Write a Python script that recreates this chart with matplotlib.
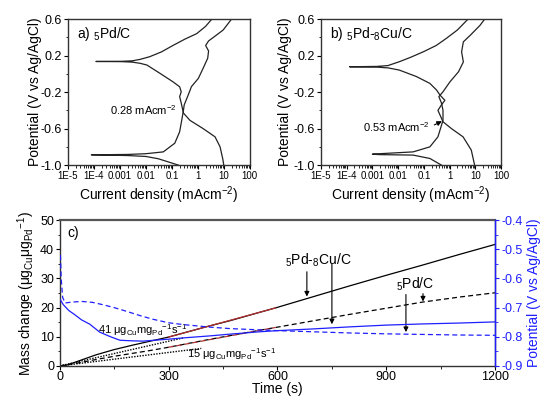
import numpy as np
import matplotlib
matplotlib.use('Agg')
import matplotlib.pyplot as plt
from matplotlib.ticker import FixedLocator, MultipleLocator, LogLocator, NullFormatter, FormatStrFormatter

plt.rcParams['font.family'] = ['Liberation Sans', 'DejaVu Sans']
plt.rcParams['mathtext.fontset'] = 'custom'
plt.rcParams['mathtext.rm'] = 'Liberation Sans'
plt.rcParams['mathtext.it'] = 'Liberation Sans:italic'
plt.rcParams['mathtext.bf'] = 'Liberation Sans:bold'
plt.rcParams['axes.unicode_minus'] = False

# ---- panel a: 5Pd/C Tafel curves (current in mA cm-2, potential in V)
a1_i = [10, 9.1, 7.2, 4.6, 1.6, 0.5, 0.28, 0.23, 0.2, 0.23, 0.2, 0.11, 0.035, 0.011, 0.006, 0.003, 0.0012, 1.2e-4,
        0.0012, 0.003, 0.006, 0.014, 0.04, 0.11, 0.32, 0.91, 2.0, 3.5]
a1_v = [-1.0, -0.93, -0.80, -0.69, -0.60, -0.51, -0.43, -0.32, -0.25, -0.197, -0.142, -0.087, 0.005, 0.096, 0.115, 0.128, 0.133, 0.135,
        0.137, 0.142, 0.158, 0.187, 0.24, 0.31, 0.38, 0.44, 0.52, 0.6]
a2_i = [0.18, 0.072, 0.03, 0.01, 0.002, 8e-5,
        0.002, 0.01, 0.047, 0.13, 0.2, 0.24, 0.28, 0.3, 0.43, 0.57, 1.05, 1.6, 2.4, 2.6, 2.0, 2.6, 5.0, 9.5, 20]
a2_v = [-1.0, -0.964, -0.93, -0.905, -0.895, -0.887,
        -0.883, -0.875, -0.855, -0.76, -0.635, -0.51, -0.40, -0.34, -0.23, -0.14, -0.05, 0.06, 0.17, 0.25, 0.31, 0.36, 0.42, 0.48, 0.6]

# ---- panel b: 5Pd-8Cu/C Tafel curves
b1_i = [9.3, 6.9, 3.3, 1.17, 0.55, 0.35, 0.48, 0.65, 0.42, 0.31, 0.17, 0.051, 0.011, 0.004, 0.0015, 1.3e-4,
        0.0015, 0.004, 0.011, 0.03, 0.093, 0.3, 0.76, 2.0, 5.2]
b1_v = [-1.0, -0.835, -0.69, -0.60, -0.525, -0.40, -0.34, -0.29, -0.233, -0.178, -0.105, -0.03, 0.041, 0.065, 0.073, 0.077,
        0.081, 0.09, 0.132, 0.18, 0.24, 0.31, 0.39, 0.48, 0.6]
b2_i = [0.48, 0.17, 0.038, 0.0019, 0.001,
        0.0019, 0.038, 0.17, 0.35, 0.55, 0.55, 0.48, 0.38, 0.55, 1.03, 2.2, 3.4, 2.9, 3.4, 6.2, 15, 23]
b2_v = [-1.0, -0.927, -0.89, -0.885, -0.88,
        -0.875, -0.855, -0.80, -0.69, -0.51, -0.40, -0.32, -0.25, -0.197, -0.087, 0.022, 0.13, 0.24, 0.35, 0.42, 0.53, 0.6]

# ---- panel c: mass change (left axis) and potential (right axis) vs time
t_mass = [0, 20, 50, 100, 150, 200, 250, 300, 400, 469, 600, 700, 800, 900, 1000, 1100, 1200]
m_pdcu = [0, 0.3, 1.6, 3.8, 5.6, 7.1, 8.5, 9.9, 13.3, 15.5, 20.1, 23.8, 27.5, 31.1, 34.6, 38.2, 41.7]
t_mass2 = [0, 50, 100, 150, 200, 250, 300, 400, 500, 600, 700, 800, 900, 1000, 1100, 1200]
m_pd = [0, 1.0, 2.2, 3.3, 4.3, 5.3, 6.4, 8.8, 11.1, 13.3, 15.5, 17.7, 19.8, 21.9, 23.6, 25.1]
fit_pdcu_t = [300, 595]
fit_pdcu_m = [9.9, 19.9]
fit_pd_t = [300, 595]
fit_pd_m = [6.4, 13.2]
dot_pdcu_t = [0, 340]
dot_pdcu_m = [0, 9.6]
dot_pd_t = [0, 390]
dot_pd_m = [0, 6.0]

t_pot1 = [2, 10, 25, 40, 60, 83, 110, 140, 166, 200, 229, 260, 303, 350, 414, 469, 550, 600, 700, 800, 900, 1000, 1100, 1200]
e_pdcu = [-0.674, -0.69, -0.71, -0.723, -0.742, -0.757, -0.784, -0.80, -0.812, -0.814, -0.815, -0.812, -0.808, -0.803,
          -0.797, -0.791, -0.783, -0.779, -0.773, -0.766, -0.76, -0.756, -0.753, -0.749]
t_pot2 = [2, 4, 8, 15, 28, 45, 63, 90, 119, 150, 185, 220, 257, 300, 339, 414, 469, 600, 700, 800, 900, 1000, 1100, 1200]
e_pd = [-0.52, -0.60, -0.665, -0.684, -0.682, -0.680, -0.679, -0.682, -0.69, -0.70, -0.713, -0.727, -0.74, -0.752,
        -0.758, -0.767, -0.772, -0.779, -0.783, -0.787, -0.79, -0.792, -0.794, -0.795]

xt_vals = [1e-5, 1e-4, 1e-3, 1e-2, 0.1, 1, 10, 100]
xt_labels = ['1E-5', '1E-4', '0.001', '0.01', '0.1', '1', '10', '100']

blue = '#1f1fff'
spine_c = '#333333'

fig = plt.figure(figsize=(5.43, 3.96), dpi=100)
ax_a = fig.add_axes([0.125, 0.583, 0.335, 0.369])
ax_b = fig.add_axes([0.591, 0.583, 0.332, 0.369])
ax_c = fig.add_axes([0.110, 0.076, 0.802, 0.368])


def tafel_axes(ax, ypad):
    ax.set_xscale('log')
    ax.set_xlim(1e-5, 100)
    ax.set_ylim(-1.0, 0.6)
    ax.xaxis.set_major_locator(FixedLocator(xt_vals))
    ax.set_xticklabels(xt_labels)
    ax.xaxis.set_minor_locator(LogLocator(base=10, subs=np.arange(2, 10), numticks=20))
    ax.xaxis.set_minor_formatter(NullFormatter())
    ax.yaxis.set_major_locator(FixedLocator([-1.0, -0.6, -0.2, 0.2, 0.6]))
    ax.yaxis.set_minor_locator(MultipleLocator(0.2))
    ax.yaxis.set_major_formatter(FormatStrFormatter('%.1f'))
    ax.tick_params(axis='x', which='major', labelsize=7, direction='out', length=3, width=0.8, pad=1.5)
    ax.tick_params(axis='y', which='major', labelsize=9, direction='out', length=3, width=0.8, pad=1.5)
    ax.tick_params(which='minor', direction='out', length=1.8, width=0.6)
    for s in ax.spines.values():
        s.set_color(spine_c)
        s.set_linewidth(1.0)
    ax.set_xlabel('Current density (mAcm$^{-2}$)', fontsize=10, labelpad=2)
    ax.set_ylabel('Potential (V vs Ag/AgCl)', fontsize=10, labelpad=ypad)


tafel_axes(ax_a, -1.5)
ax_a.plot(a1_i, a1_v, color='#222222', lw=0.9)
ax_a.plot(a2_i, a2_v, color='#222222', lw=0.9)
ax_a.text(0.048, 0.90, 'a) $_5$Pd/C', transform=ax_a.transAxes, fontsize=10, va='center')
ax_a.text(0.23, 0.377, '0.28 mAcm$^{-2}$', transform=ax_a.transAxes, fontsize=8, va='center')

tafel_axes(ax_b, 1)
ax_b.plot(b1_i, b1_v, color='#222222', lw=0.9)
ax_b.plot(b2_i, b2_v, color='#222222', lw=0.9)
ax_b.text(0.048, 0.90, 'b) $_5$Pd-$_8$Cu/C', transform=ax_b.transAxes, fontsize=10, va='center')
ax_b.annotate('0.53 mAcm$^{-2}$', xy=(0.5, -0.52), xytext=(0.236, 0.262), textcoords='axes fraction',
              fontsize=8, va='center', ha='left',
              arrowprops=dict(arrowstyle='-|>', color='k', lw=0.8, mutation_scale=7, relpos=(1, 0.5),
                              shrinkA=1, shrinkB=0))

# ---- panel c
ax_c.plot(t_mass, m_pdcu, color='k', lw=0.9)
ax_c.plot(t_mass2, m_pd, color='k', lw=0.9, ls=(0, (4, 2.5)))
ax_c.plot(fit_pdcu_t, fit_pdcu_m, color='#b03030', lw=0.9)
ax_c.plot(fit_pd_t, fit_pd_m, color='#b03030', lw=0.9, ls=(0, (4, 2.5)))
ax_c.plot(dot_pdcu_t, dot_pdcu_m, color='k', lw=1.0, ls=(0, (1, 1)))
ax_c.plot(dot_pd_t, dot_pd_m, color='k', lw=1.0, ls=(0, (1, 1)))
ax_c.set_xlim(0, 1200)
ax_c.set_ylim(0, 50)
ax_c.xaxis.set_major_locator(MultipleLocator(300))
ax_c.xaxis.set_minor_locator(MultipleLocator(150))
ax_c.yaxis.set_major_locator(MultipleLocator(10))
ax_c.yaxis.set_minor_locator(MultipleLocator(5))
ax_c.tick_params(which='major', labelsize=9, direction='out', length=3, width=0.8, pad=1)
ax_c.tick_params(which='minor', direction='out', length=1.8, width=0.6)
ax_c.set_xlabel('Time (s)', fontsize=10, labelpad=-1)
ax_c.set_ylabel('Mass change (μg$_\\mathrm{Cu}$μg$_\\mathrm{Pd}$$^{-1}$)', fontsize=10, labelpad=2)
for s in ax_c.spines.values():
    s.set_color(spine_c)
    s.set_linewidth(1.0)
ax_c.spines['top'].set_linewidth(1.6)
ax_c.spines['top'].set_color('#555555')

ax_r = ax_c.twinx()
ax_r.plot(t_pot1, e_pdcu, color=blue, lw=0.9)
ax_r.plot(t_pot2, e_pd, color=blue, lw=0.9, ls=(0, (4, 2.5)))
ax_r.set_ylim(-0.9, -0.4)
ax_r.yaxis.set_major_locator(MultipleLocator(0.1))
ax_r.yaxis.set_minor_locator(MultipleLocator(0.05))
ax_r.yaxis.set_major_formatter(FormatStrFormatter('%.1f'))
ax_r.tick_params(axis='y', which='major', labelsize=9, colors=blue, direction='out', length=3, width=0.8, pad=1.5)
ax_r.tick_params(axis='y', which='minor', colors=blue, direction='out', length=1.8, width=0.6)
ax_r.spines['right'].set_color(blue)
ax_r.spines['right'].set_linewidth(1.0)
ax_r.spines['top'].set_visible(False)
ax_r.spines['left'].set_visible(False)
ax_r.spines['bottom'].set_visible(False)
ax_r.set_ylabel('Potential (V vs Ag/AgCl)', fontsize=10, color=blue, labelpad=3)

ax_c.text(0.018, 0.91, 'c)', transform=ax_c.transAxes, fontsize=10, va='center')
ax_c.text(105, 12.2, '41 μg$_\\mathrm{Cu}$mg$_\\mathrm{Pd}$$^{-1}$s$^{-1}$', fontsize=8, va='center')
ax_c.text(352, 4.2, '15 μg$_\\mathrm{Cu}$mg$_\\mathrm{Pd}$$^{-1}$s$^{-1}$', fontsize=8, va='center')
ax_c.text(712, 36.4, '$_5$Pd-$_8$Cu/C', fontsize=10, ha='center', va='center')
ax_c.text(979, 27.9, '$_5$Pd/C', fontsize=10, ha='center', va='center')

arr = dict(arrowstyle='-|>', color='k', lw=0.8, mutation_scale=7, shrinkA=0, shrinkB=0)
ax_c.annotate('', xy=(681, 23.8), xytext=(681, 32.3), arrowprops=arr)
ax_c.annotate('', xy=(750, 14.3), xytext=(750, 35.0), arrowprops=arr)
ax_c.annotate('', xy=(954, 11.6), xytext=(954, 24.5), arrowprops=arr)
ax_c.annotate('', xy=(1001, 22.1), xytext=(1001, 24.8), arrowprops=arr)

fig.savefig('out.png', dpi=100)
